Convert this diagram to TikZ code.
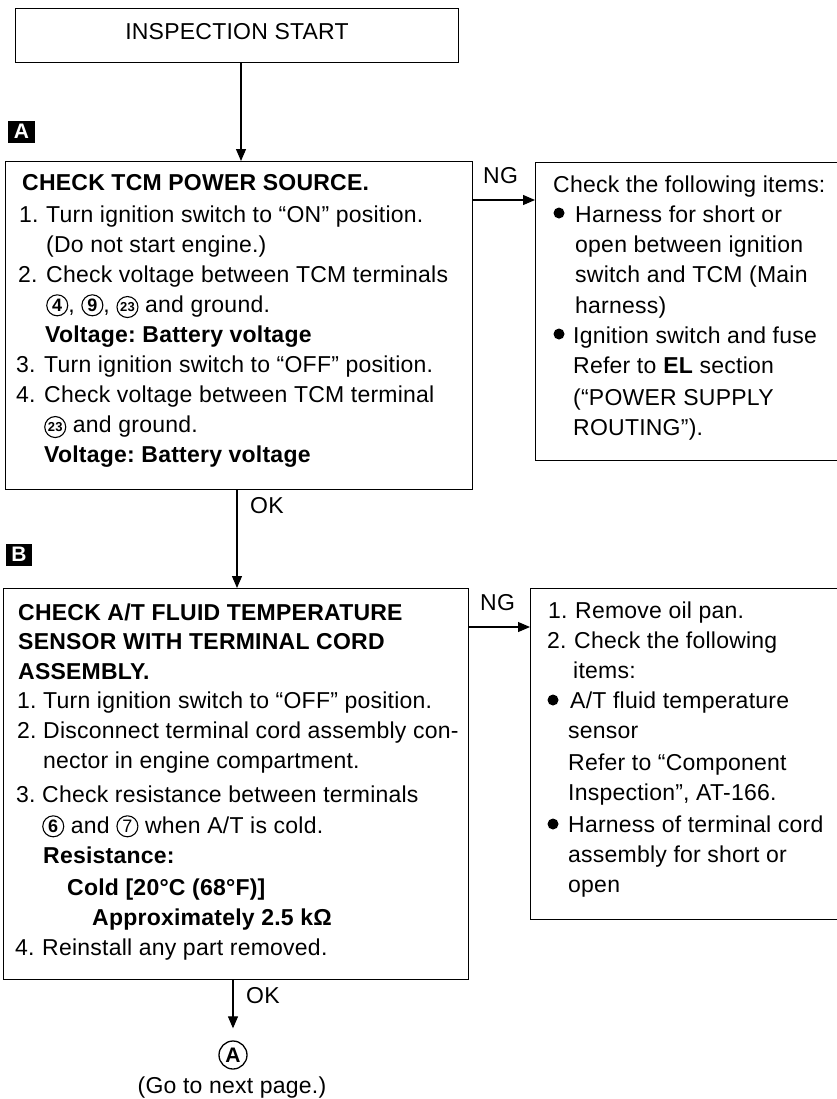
\documentclass[tikz,border=0pt]{standalone}
\usepackage{fontspec}
\setmainfont{Liberation Sans}[LetterSpace=1]
\usetikzlibrary{arrows.meta}
\newcommand\fs{\fontsize{23bp}{30bp}\selectfont}
\newcommand\cnum[2][\bfseries]{\tikz[baseline={([yshift=-0.5bp]cn.base)}]\node[circle,draw,line width=1.1bp,inner sep=0pt,minimum size=21bp,font=\fontsize{18bp}{18bp}\selectfont#1](cn){#2};}
\frenchspacing
\begin{document}
\begin{tikzpicture}[x=1bp,y=-1bp,
  box/.style={draw,line width=1.4bp,inner sep=0pt,anchor=north west},
  txt/.style={anchor=base west,inner sep=0pt,font=\fs},
  ctxt/.style={anchor=base,inner sep=0pt,font=\fs},
  arr/.style={-{Triangle[length=12bp,width=10bp]},line width=1.1bp},
  bul/.style={circle,fill=black,inner sep=0pt,minimum size=11bp},
  lab/.style={fill=black,text=white,inner sep=0pt,minimum width=26bp,minimum height=22bp,font=\fontsize{21bp}{21bp}\selectfont\bfseries}]
\useasboundingbox (0,0) rectangle (837,1099);
% boxes
\node[box,minimum width=443bp,minimum height=54bp] (start) at (15,8) {};
\node[ctxt] (starttxt) at (237,39) {INSPECTION START};
\node[box,minimum width=467bp,minimum height=328bp] (boxA) at (5,161) {};
\node[box,minimum width=320bp,minimum height=298bp] (rA) at (535,162) {};
\node[box,minimum width=465bp,minimum height=391bp] (boxB) at (3,588) {};
\node[box,minimum width=320bp,minimum height=331bp] (rB) at (530,588) {};
% section labels
\node[lab] (labA) at (21.5,131.5) {A};
\node[lab] (labB) at (19,554.5) {B};
% connectors
\coordinate (x1) at (241,0);
\coordinate (x2) at (237,0);
\coordinate (x3) at (233,0);
\coordinate (y1) at (0,200);
\coordinate (y2) at (0,627);
\draw[arr] (start.south -| x1) -- (boxA.north -| x1);
\draw[arr] (boxA.south -| x2) -- (boxB.north -| x2);
\node[circle,draw,line width=1.3bp,inner sep=0pt,minimum size=28bp,font=\fontsize{21bp}{21bp}\selectfont\bfseries] (circA) at (233,1055) {A};
\draw[arr,shorten >=12bp] (boxB.south -| x3) -- (circA.north);
\draw[arr] (boxA.east |- y1) -- (rA.west |- y1);
\draw[arr] (boxB.east |- y2) -- (rB.west |- y2);
\node[txt] (okA) at (250,513) {OK};
\node[txt] (okB) at (246,1003) {OK};
\node[txt] (ngA) at (483,183) {NG};
\node[txt] (ngB) at (480,610) {NG};
\node[ctxt] (next) at (232,1093) {(Go to next page.)};
% box A text
\node[txt,font=\fs\bfseries] (a0) at (22,190) {CHECK TCM POWER SOURCE.};
\node[txt] (a1n) at (19,222) {1.};
\node[txt] (a1) at (46,222) {Turn ignition switch to “ON” position.};
\node[txt] (a2) at (46,252) {(Do not start engine.)};
\node[txt] (a3n) at (18,282) {2.};
\node[txt] (a3) at (46,282) {Check voltage between TCM terminals};
\node[txt] (a4) at (46,312) {\cnum{4}, \cnum{9}, \cnum{\fontsize{13bp}{13bp}\selectfont 23} and ground.};
\node[txt,font=\fs\bfseries] (a5) at (45,342) {Voltage: Battery voltage};
\node[txt] (a6n) at (16,372) {3.};
\node[txt] (a6) at (44,372) {Turn ignition switch to “OFF” position.};
\node[txt] (a7n) at (16,402) {4.};
\node[txt] (a7) at (44,402) {Check voltage between TCM terminal};
\node[txt] (a8) at (44,432) {\cnum{\fontsize{13bp}{13bp}\selectfont 23} and ground.};
\node[txt,font=\fs\bfseries] (a9) at (44,462) {Voltage: Battery voltage};
% right A text
\node[txt] (r0) at (553,192) {Check the following items:};
\node[bul] (rb1) at (559,213) {};
\node[txt] (r1) at (575,222) {Harness for short or};
\node[txt] (r2) at (575,252) {open between ignition};
\node[txt] (r3) at (575,282) {switch and TCM (Main};
\node[txt] (r4) at (575,313) {harness)};
\node[bul] (rb2) at (559,334) {};
\node[txt] (r5) at (573,343) {Ignition switch and fuse};
\node[txt] (r6) at (573,373) {Refer to \textbf{EL} section};
\node[txt] (r7) at (573,405) {(“POWER SUPPLY};
\node[txt] (r8) at (573,435) {ROUTING”).};
% box B text
\node[txt,font=\fs\bfseries] (b0) at (18,620) {CHECK A/T FLUID TEMPERATURE};
\node[txt,font=\fs\bfseries] (b1) at (18,649) {SENSOR WITH TERMINAL CORD};
\node[txt,font=\fs\bfseries] (b2) at (18,679) {ASSEMBLY.};
\node[txt] (b3n) at (17,708) {1.};
\node[txt] (b3) at (43,708) {Turn ignition switch to “OFF” position.};
\node[txt] (b4n) at (17,738) {2.};
\node[txt] (b4) at (43,738) {Disconnect terminal cord assembly con-};
\node[txt] (b5) at (43,768) {nector in engine compartment.};
\node[txt] (b6n) at (16,802) {3.};
\node[txt] (b6) at (42,802) {Check resistance between terminals};
\node[txt] (b7) at (42,833) {\cnum{6} and \cnum[\mdseries]{7} when A/T is cold.};
\node[txt,font=\fs\bfseries] (b8) at (43,863) {Resistance:};
\node[txt,font=\fs\bfseries] (b9) at (67,895) {Cold [20°C (68°F)]};
\node[txt,font=\fs\bfseries] (b10) at (92,925) {Approximately 2.5 kΩ};
\node[txt] (b11n) at (15,955) {4.};
\node[txt] (b11) at (42,955) {Reinstall any part removed.};
% right B text
\node[txt] (s1n) at (548,618) {1.};
\node[txt] (s1) at (575,618) {Remove oil pan.};
\node[txt] (s2n) at (547,648) {2.};
\node[txt] (s2) at (574,648) {Check the following};
\node[txt] (s3) at (573,678) {items:};
\node[bul] (sb1) at (553,700) {};
\node[txt] (s4) at (570,708) {A/T fluid temperature};
\node[txt] (s5) at (568,738) {sensor};
\node[txt] (s6) at (568,770) {Refer to “Component};
\node[txt] (s7) at (568,800) {Inspection”, AT-166.};
\node[bul] (sb2) at (553,824) {};
\node[txt] (s8) at (568,832) {Harness of terminal cord};
\node[txt] (s9) at (568,862) {assembly for short or};
\node[txt] (s10) at (568,892) {open};
\end{tikzpicture}
\end{document}
